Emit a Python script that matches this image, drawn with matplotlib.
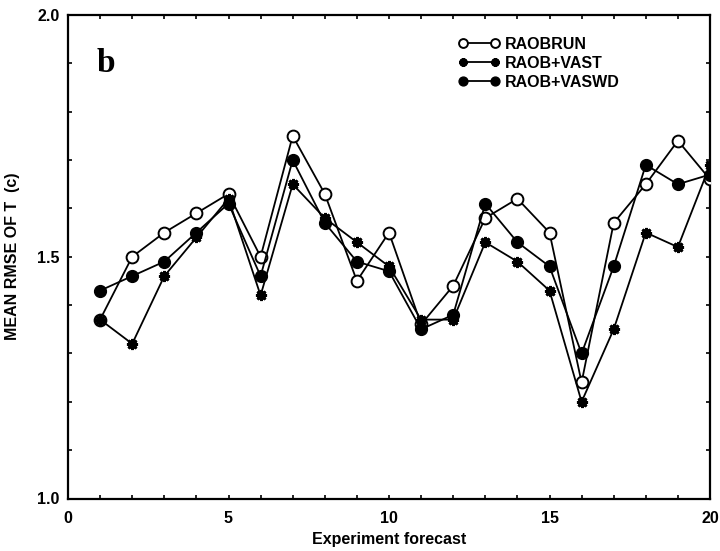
import matplotlib
matplotlib.use("Agg")
import matplotlib.pyplot as plt
from matplotlib.ticker import MultipleLocator, FormatStrFormatter

forecast = list(range(1, 21))
raobrun = [1.37, 1.50, 1.55, 1.59, 1.63, 1.50, 1.75, 1.63, 1.45, 1.55,
           1.36, 1.44, 1.58, 1.62, 1.55, 1.24, 1.57, 1.65, 1.74, 1.66]
raob_vast = [1.37, 1.32, 1.46, 1.54, 1.62, 1.42, 1.65, 1.58, 1.53, 1.48,
             1.37, 1.37, 1.53, 1.49, 1.43, 1.20, 1.35, 1.55, 1.52, 1.69]
raob_vaswd = [1.43, 1.46, 1.49, 1.55, 1.61, 1.46, 1.70, 1.57, 1.49, 1.47,
              1.35, 1.38, 1.61, 1.53, 1.48, 1.30, 1.48, 1.69, 1.65, 1.67]

plt.rcParams['font.family'] = ['Liberation Sans', 'DejaVu Sans']

fig = plt.figure(figsize=(7.2, 5.51), dpi=100)
ax = fig.add_axes([68 / 720, 52.5 / 551, 642 / 720, 483.5 / 551])

lw = 1.3
ax.plot(forecast, raobrun, color='black', lw=lw, marker='o', ms=8.5,
        mfc='white', mec='black', mew=1.4, label='RAOBRUN', zorder=3)
ax.plot(forecast, raob_vast, color='black', lw=lw, marker=(8, 2, 0), ms=8,
        mec='black', mew=2.0, label='RAOB+VAST', zorder=4)
ax.plot(forecast, raob_vaswd, color='black', lw=lw, marker='o', ms=8.5,
        mfc='black', mec='black', label='RAOB+VASWD', zorder=5)

ax.set_xlim(0, 20)
ax.set_ylim(1.0, 2.0)
ax.xaxis.set_major_locator(MultipleLocator(5))
ax.xaxis.set_minor_locator(MultipleLocator(1))
ax.yaxis.set_major_locator(MultipleLocator(0.5))
ax.yaxis.set_minor_locator(MultipleLocator(0.1))
ax.tick_params(which='both', direction='in', top=True, right=True,
               labelsize=11.5, width=1.2, length=3)
ax.tick_params(axis='x', which='major', pad=9)
ax.tick_params(axis='y', which='major', pad=6)
ax.yaxis.set_major_formatter(FormatStrFormatter('%.1f'))
for lab in ax.get_xticklabels() + ax.get_yticklabels():
    lab.set_fontweight('bold')
for sp in ax.spines.values():
    sp.set_linewidth(1.6)

ax.set_xlabel('Experiment forecast', fontsize=11.5, fontweight='bold', labelpad=4)
ax.set_ylabel('MEAN RMSE OF T  (c)', fontsize=11.5, fontweight='bold', labelpad=12)

ax.text(0.045, 0.90, 'b', transform=ax.transAxes, fontsize=24,
        fontweight='bold', family=['Liberation Serif', 'DejaVu Serif'],
        va='center', ha='left')

leg = ax.legend(loc='upper left', bbox_to_anchor=(0.586, 0.985), frameon=False,
                numpoints=2, markerscale=0.75, handlelength=2.6,
                handletextpad=0.3, labelspacing=0.25,
                prop={'weight': 'bold', 'size': 11.5})

fig.savefig('out.png', dpi=100)
